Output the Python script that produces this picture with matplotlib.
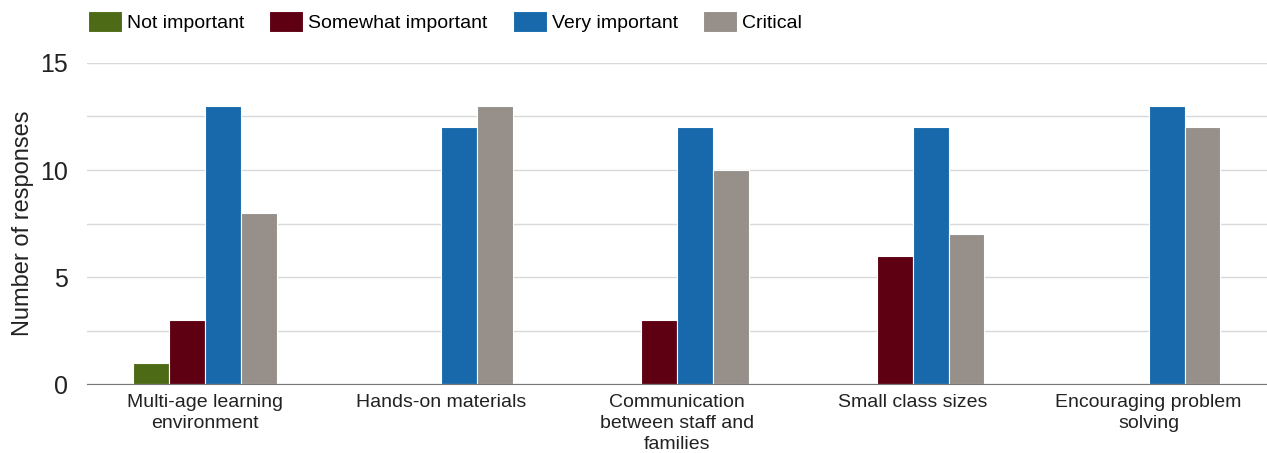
import numpy as np
import matplotlib.pyplot as plt

plt.rcParams['font.family'] = ['Liberation Sans', 'DejaVu Sans']

categories = ['Multi-age learning\nenvironment', 'Hands-on materials',
              'Communication\nbetween staff and\nfamilies', 'Small class sizes',
              'Encouraging problem\nsolving']
series = ['Not important', 'Somewhat important', 'Very important', 'Critical']
not_important = [1, 0, 0, 0, 0]
somewhat_important = [3, 0, 3, 6, 0]
very_important = [13, 12, 12, 12, 13]
critical = [8, 13, 10, 7, 12]
colors = ['#4d6b17', '#5e0011', '#1869ab', '#968f8a']

values = [not_important, somewhat_important, very_important, critical]

fig = plt.figure(figsize=(12.67, 4.53), dpi=100)
ax = fig.add_axes([0.0687, 0.152, 0.931, 0.709])

x = np.arange(len(categories))
w = 0.152
for i, (name, vals, c) in enumerate(zip(series, values, colors)):
    v = np.array(vals, dtype=float)
    v[v == 0] = np.nan
    ax.bar(x + (i - 1.5) * w, v, width=w, color=c, edgecolor='white',
           linewidth=0.8, label=name, zorder=3)

ax.set_xlim(-0.5, len(categories) - 0.5)
ax.set_ylim(0, 15)
ax.set_yticks([0, 5, 10, 15])
ax.set_yticks([2.5, 7.5, 12.5], minor=True)
ax.grid(axis='y', which='both', color='#d9d9d9', linewidth=1, zorder=0)
ax.tick_params(axis='y', which='both', length=0, labelsize=18, pad=14)
ax.tick_params(axis='x', length=0, labelsize=14, pad=7)
ax.set_xticks(x)
ax.set_xticklabels(categories, color='#222222', linespacing=1.3)
for t in ax.get_yticklabels():
    t.set_color('#222222')
for s in ['top', 'right', 'left']:
    ax.spines[s].set_visible(False)
ax.spines['bottom'].set_color('#777777')
ax.spines['bottom'].set_zorder(4)
ax.set_ylabel('Number of responses', fontsize=17, color='#222222', labelpad=4)

fig.legend(loc='upper left', bbox_to_anchor=(0.0555, 1.014), ncol=4, frameon=False,
           fontsize=14, handlelength=1.75, handleheight=1.3, handletextpad=0.25,
           columnspacing=1.3)

plt.savefig('out.png', dpi=100)
